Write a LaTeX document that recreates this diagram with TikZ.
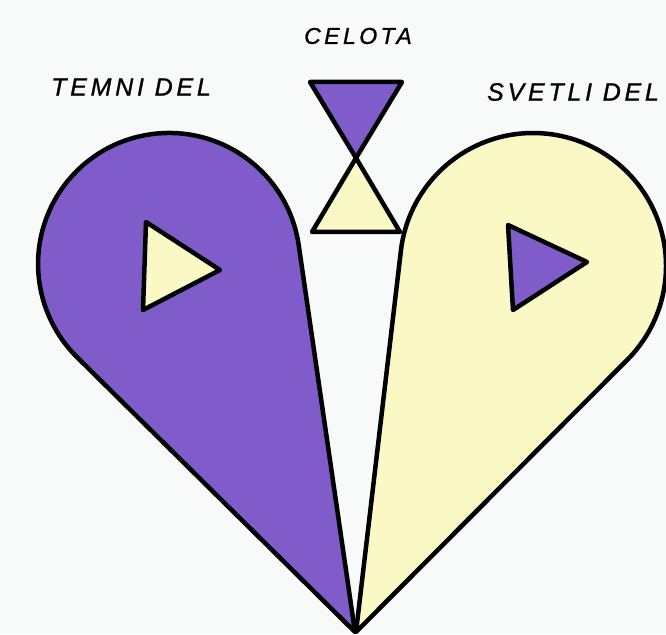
\documentclass[tikz,border=0pt]{standalone}
\usepackage{fontspec}
\newfontfamily\handfont[LetterSpace=15,FakeBold=1]{Liberation Sans}
\definecolor{paper}{RGB}{248,250,250}
\definecolor{darkpart}{RGB}{128,92,202}
\definecolor{lightpart}{RGB}{250,248,196}
\tikzset{
  outline/.style={draw=black, line width=4.5pt, line join=round},
  darkfill/.style={outline, fill=darkpart},    % dark (violet) areas
  lightfill/.style={outline, fill=lightpart},  % light (yellow) areas
  lbl/.style={font=\handfont\itshape\fontsize{#1}{30}\selectfont, inner sep=0pt},
  lbl/.default=25,
}
\begin{document}
\begin{tikzpicture}[x=1pt, y=1pt]
  \fill[paper] (0,0) rectangle (666,634);
  \useasboundingbox (0,0) rectangle (666,634);
  % left drop: circle r=131 at (169,370) with tangents to the tip
  \draw[darkfill] (355,2) -- (298.7,388.9) arc[start angle=8.29, end angle=225.31, radius=131] -- cycle;
  % right drop: circle r=133 at (533,368)
  \draw[lightfill] (356,2) -- (627.2,274.1) arc[start angle=-44.91, end angle=173.30, radius=133] -- cycle;
  % triangles inside the drops
  \draw[lightfill] (146,412) -- (143,324) -- (220,364) -- cycle;
  \draw[darkfill] (508,409) -- (513,324) -- (587,372) -- cycle;
  % hourglass
  \draw[darkfill] (310,552) -- (402,552) -- (356,476) -- cycle;
  \draw[lightfill] (356,476) -- (400,402) -- (312,402) -- cycle;
  % labels
  \node[lbl=23] (whole) at (358,598) {CELOTA};
  \node[lbl] (darkside) at (131,547) {TEMNI DEL};
  \node[lbl] (lightside) at (573,542) {SVETLI DEL};
\end{tikzpicture}
\end{document}
